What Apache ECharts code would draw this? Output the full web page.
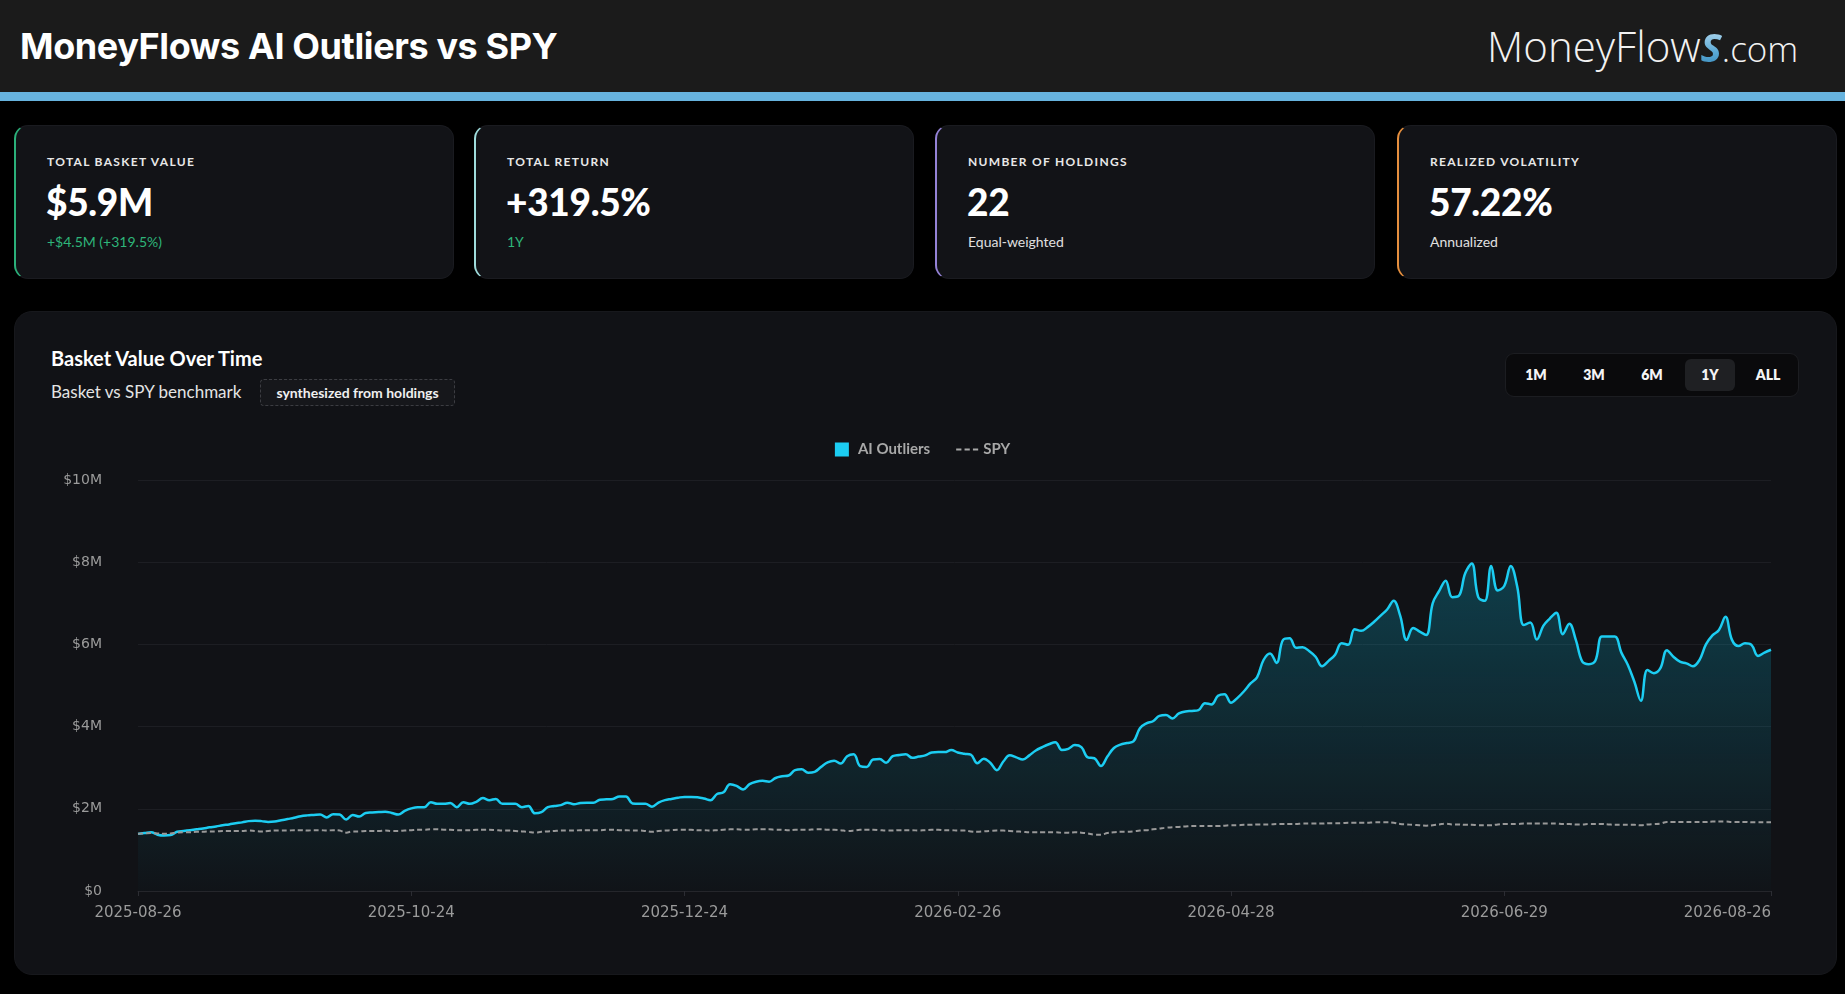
<!DOCTYPE html>
<html>
<head>
<meta charset="utf-8">
<script src="https://cdn.jsdelivr.net/npm/echarts@6/dist/echarts.min.js"></script>
<style>
  html, body { margin: 0; padding: 0; background: #000; width: 1845px; height: 994px; overflow: hidden; font-family: Lato, "Noto Sans", sans-serif; color: #fff; }
  .header { position: absolute; left: 0; top: 0; width: 1845px; height: 92px; background: #1b1b1b; }
  .stripe { position: absolute; left: 0; top: 92px; width: 1845px; height: 9px; background: #67b3de; }
  .title { position: absolute; left: 20px; top: 24px; font-family: Inter, Lato, sans-serif; font-weight: 700; font-size: 36px; letter-spacing: -0.4px; }
  .logo { position: absolute; left: 1487px; top: 17px; font-family: "Open Sans", sans-serif; font-weight: 300; font-size: 42px; color: #f2f2f2; white-space: nowrap; }
  .logo .s { font-weight: 700; font-style: italic; font-size: 40px; background: linear-gradient(180deg, #d9ecf7 0%, #5aa9d6 60%, #2d7fb0 100%); -webkit-background-clip: text; background-clip: text; color: transparent; }
  .logo .com { font-size: 35px; }
  .card { position: absolute; top: 125px; width: 440px; height: 154px; box-sizing: border-box; background: #121317; border: 1px solid #1a1b20; border-left: 2px solid var(--accent); border-radius: 14px; padding-left: 32px; }
  .lbl { position: absolute; left: 31px; top: 28px; font-size: 12px; font-weight: 700; letter-spacing: 1.3px; color: #e8e8e8; }
  .val { position: absolute; left: 30px; top: 53px; font-size: 37px; font-weight: 900; color: #fff; letter-spacing: -0.3px; }
  .sub { position: absolute; left: 31px; top: 107px; font-size: 14px; color: #e0e0e0; }
  .green { color: #2eb57a; }
  .panel { position: absolute; left: 14px; top: 311px; width: 1823px; height: 664px; box-sizing: border-box; background: #111216; border: 1px solid #17181c; border-radius: 18px; }
  .ptitle { position: absolute; left: 51px; top: 346px; font-size: 20px; font-weight: 700; color: #fff; }
  .psub { position: absolute; left: 51px; top: 381px; font-size: 17px; color: #e4e4e4; }
  .badge { position: absolute; left: 260px; top: 379px; width: 195px; height: 27px; box-sizing: border-box; border: 1px dashed #3c3d42; border-radius: 4px; font-size: 14px; font-weight: 700; color: #f0f0f0; text-align: center; line-height: 25px; background: #16171b; }
  .ranges { position: absolute; left: 1505px; top: 353px; width: 294px; height: 44px; box-sizing: border-box; background: #0a0a0c; border: 1px solid #1c1d21; border-radius: 9px; padding: 5px; display: flex; gap: 8px; }
  .ranges div { width: 51px; height: 32px; line-height: 32px; text-align: center; font-size: 14px; font-weight: 800; color: #f4f4f4; border-radius: 6px; }
  .ranges div.on { background: #1f2023; }
  #chart { position: absolute; left: 0; top: 0; width: 1845px; height: 994px; }
</style>
</head>
<body>
<div class="header"></div>
<div class="stripe"></div>
<div class="title">MoneyFlows AI Outliers vs SPY</div>
<div class="logo">MoneyFlow<span class="s">S</span><span class="com">.com</span></div>

<div class="card" style="left:14px; --accent:#2bb07a">
  <div class="lbl">TOTAL BASKET VALUE</div>
  <div class="val">$5.9M</div>
  <div class="sub green">+$4.5M (+319.5%)</div>
</div>
<div class="card" style="left:474px; --accent:#9fdcdc">
  <div class="lbl">TOTAL RETURN</div>
  <div class="val">+319.5%</div>
  <div class="sub green">1Y</div>
</div>
<div class="card" style="left:935px; --accent:#9482d6">
  <div class="lbl">NUMBER OF HOLDINGS</div>
  <div class="val">22</div>
  <div class="sub">Equal-weighted</div>
</div>
<div class="card" style="left:1397px; --accent:#e68f3e">
  <div class="lbl">REALIZED VOLATILITY</div>
  <div class="val">57.22%</div>
  <div class="sub">Annualized</div>
</div>

<div class="panel"></div>
<div class="ptitle">Basket Value Over Time</div>
<div class="psub">Basket vs SPY benchmark</div>
<div class="badge">synthesized from holdings</div>
<div class="ranges"><div>1M</div><div>3M</div><div>6M</div><div class="on">1Y</div><div>ALL</div></div>

<div id="chart"></div>

<script>
// tick labels shown on the x axis
const tickLabels = ['2025-08-26', '2025-10-24', '2025-12-24', '2026-02-26', '2026-04-28', '2026-06-29', '2026-08-26'];

// market holidays skipped between the trading days
const holidays = ['2025-09-01', '2025-11-27', '2025-12-25', '2026-01-01', '2026-01-19',
                  '2026-02-16', '2026-04-03', '2026-05-25', '2026-06-19', '2026-07-03'];

// basket value, $M
const aiOutliers = [
  1.39, 1.41, 1.43, 1.37, 1.35, 1.36, 1.44, 1.46, 1.48, 1.50,
  1.52, 1.55, 1.57, 1.60, 1.62, 1.65, 1.67, 1.70, 1.71, 1.70,
  1.68, 1.69, 1.72, 1.75, 1.78, 1.82, 1.84, 1.85, 1.86, 1.79,
  1.87, 1.86, 1.74, 1.85, 1.81, 1.90, 1.91, 1.92, 1.93, 1.90,
  1.86, 1.95, 2.01, 2.04, 2.04, 2.16, 2.12, 2.12, 2.14, 2.04,
  2.16, 2.12, 2.17, 2.26, 2.21, 2.24, 2.12, 2.12, 2.12, 2.04,
  2.07, 1.89, 1.92, 2.04, 2.07, 2.09, 2.15, 2.11, 2.14, 2.15,
  2.15, 2.22, 2.23, 2.24, 2.30, 2.30, 2.13, 2.12, 2.12, 2.05,
  2.15, 2.21, 2.24, 2.27, 2.29, 2.29, 2.28, 2.25, 2.21, 2.36,
  2.40, 2.60, 2.56, 2.47, 2.60, 2.66, 2.68, 2.66, 2.75, 2.79,
  2.81, 2.94, 2.96, 2.88, 2.90, 3.02, 3.13, 3.17, 3.10, 3.28,
  3.33, 3.04, 3.02, 3.20, 3.21, 3.12, 3.28, 3.31, 3.33, 3.24,
  3.27, 3.30, 3.37, 3.38, 3.38, 3.43, 3.37, 3.34, 3.32, 3.11,
  3.22, 3.12, 2.94, 3.15, 3.30, 3.25, 3.20, 3.30, 3.42, 3.50,
  3.57, 3.62, 3.43, 3.46, 3.55, 3.50, 3.25, 3.23, 3.04, 3.27,
  3.48, 3.56, 3.60, 3.64, 3.96, 4.08, 4.13, 4.26, 4.28, 4.20,
  4.32, 4.37, 4.38, 4.40, 4.57, 4.54, 4.75, 4.79, 4.58, 4.70,
  4.86, 5.05, 5.20, 5.62, 5.78, 5.55, 6.11, 6.15, 5.92, 5.93,
  5.84, 5.70, 5.47, 5.60, 5.75, 6.03, 5.99, 6.37, 6.33, 6.42,
  6.55, 6.70, 6.85, 7.06, 6.70, 6.11, 6.40, 6.31, 6.23, 7.00,
  7.30, 7.55, 7.15, 7.18, 7.73, 7.97, 7.15, 7.06, 7.91, 7.31,
  7.42, 7.91, 7.40, 6.47, 6.53, 6.12, 6.45, 6.63, 6.77, 6.25,
  6.50, 6.11, 5.58, 5.52, 5.60, 6.19, 6.19, 6.19, 5.80, 5.50,
  5.09, 4.63, 5.38, 5.30, 5.42, 5.86, 5.70, 5.58, 5.54, 5.47,
  5.62, 6.00, 6.22, 6.35, 6.67, 6.11, 5.96, 6.03, 5.99, 5.72,
  5.80, 5.87
];

// SPY benchmark scaled to the same start, $M
const spy = [
  1.39, 1.40, 1.41, 1.40, 1.39, 1.40, 1.42, 1.43, 1.43, 1.44,
  1.44, 1.45, 1.45, 1.46, 1.46, 1.46, 1.46, 1.47, 1.46, 1.45,
  1.46, 1.47, 1.47, 1.47, 1.48, 1.48, 1.47, 1.48, 1.48, 1.47,
  1.48, 1.47, 1.42, 1.45, 1.45, 1.46, 1.46, 1.46, 1.47, 1.46,
  1.46, 1.47, 1.48, 1.49, 1.49, 1.50, 1.50, 1.49, 1.49, 1.48,
  1.48, 1.48, 1.49, 1.49, 1.49, 1.48, 1.47, 1.47, 1.46, 1.45,
  1.44, 1.42, 1.44, 1.45, 1.46, 1.47, 1.47, 1.47, 1.48, 1.48,
  1.48, 1.48, 1.49, 1.49, 1.48, 1.48, 1.47, 1.47, 1.46, 1.44,
  1.46, 1.47, 1.48, 1.49, 1.49, 1.49, 1.48, 1.48, 1.47, 1.48,
  1.49, 1.50, 1.50, 1.49, 1.49, 1.50, 1.50, 1.50, 1.49, 1.49,
  1.48, 1.49, 1.49, 1.49, 1.50, 1.50, 1.49, 1.49, 1.48, 1.46,
  1.47, 1.49, 1.49, 1.49, 1.48, 1.47, 1.47, 1.48, 1.48, 1.48,
  1.47, 1.48, 1.49, 1.49, 1.48, 1.48, 1.47, 1.47, 1.45, 1.44,
  1.45, 1.46, 1.47, 1.47, 1.46, 1.45, 1.44, 1.43, 1.43, 1.43,
  1.43, 1.43, 1.42, 1.42, 1.43, 1.42, 1.40, 1.37, 1.37, 1.41,
  1.43, 1.44, 1.44, 1.45, 1.47, 1.48, 1.50, 1.52, 1.54, 1.55,
  1.56, 1.57, 1.58, 1.58, 1.58, 1.58, 1.58, 1.59, 1.60, 1.60,
  1.61, 1.61, 1.62, 1.62, 1.62, 1.63, 1.63, 1.63, 1.63, 1.64,
  1.64, 1.64, 1.64, 1.65, 1.65, 1.65, 1.66, 1.66, 1.66, 1.66,
  1.67, 1.67, 1.67, 1.66, 1.63, 1.62, 1.61, 1.60, 1.59, 1.60,
  1.62, 1.64, 1.62, 1.62, 1.61, 1.61, 1.60, 1.60, 1.60, 1.62,
  1.63, 1.63, 1.63, 1.64, 1.64, 1.64, 1.64, 1.64, 1.64, 1.63,
  1.63, 1.62, 1.62, 1.63, 1.63, 1.63, 1.62, 1.61, 1.61, 1.61,
  1.61, 1.60, 1.62, 1.63, 1.64, 1.68, 1.68, 1.68, 1.68, 1.68,
  1.68, 1.68, 1.69, 1.69, 1.69, 1.68, 1.68, 1.68, 1.67, 1.67,
  1.67, 1.67
];

// trading days from 2025-08-26 to 2026-08-26
const dates = [];
for (let t = Date.UTC(2025, 7, 26); t <= Date.UTC(2026, 7, 26); t += 86400000) {
  const d = new Date(t);
  const wd = d.getUTCDay();
  const s = d.toISOString().slice(0, 10);
  if (wd === 0 || wd === 6 || holidays.includes(s)) continue;
  dates.push(s);
}

function initChart() {
  const myChart = echarts.init(document.getElementById('chart'), null, { renderer: 'canvas' });
  const showTick = (idx, val) => tickLabels.includes(val);

  const option = {
    backgroundColor: 'transparent',
    animation: false,
    legend: {
      top: 437,
      left: 'center',
      itemWidth: 22,
      itemHeight: 14,
      itemGap: 26,
      textStyle: { color: '#a8a8a8', fontSize: 15, fontWeight: 700, fontFamily: 'Lato' },
      data: [
        { name: 'AI Outliers', icon: 'path://M0,0h10v10H0z', itemStyle: { color: '#1ccdf2' } },
        { name: 'SPY', icon: 'path://M0,0h5v2H0z M8,0h5v2H8z M16,0h5v2H16z', itemStyle: { color: '#a8a8a8' } }
      ]
    },
    grid: { left: 138, right: 74, top: 480, bottom: 103 },
    xAxis: {
      type: 'category',
      data: dates,
      boundaryGap: false,
      axisLine: { lineStyle: { color: '#25262b' } },
      axisTick: { show: true, interval: showTick, length: 5, lineStyle: { color: '#2c2d33' } },
      axisLabel: {
        interval: showTick,
        color: '#9b9b9b',
        fontSize: 15,
        fontFamily: 'DejaVu Sans',
        margin: 15,
        alignMaxLabel: 'right'
      },
      splitLine: { show: false }
    },
    yAxis: {
      type: 'value',
      min: 0,
      max: 10,
      interval: 2,
      axisLine: { show: false },
      axisTick: { show: false },
      axisLabel: {
        color: '#9b9b9b',
        fontSize: 14,
        fontFamily: 'DejaVu Sans',
        margin: 36,
        formatter: v => v === 0 ? '$0' : '$' + v + 'M'
      },
      splitLine: { lineStyle: { color: '#1d1e23', width: 1 } }
    },
    series: [
      {
        name: 'AI Outliers',
        type: 'line',
        data: aiOutliers,
        smooth: 0.4,
        showSymbol: false,
        lineStyle: { color: '#1ccdf2', width: 2.5 },
        itemStyle: { color: '#1ccdf2' },
        areaStyle: {
          color: new echarts.graphic.LinearGradient(0, 0, 0, 1, [
            { offset: 0, color: 'rgba(10, 185, 220, 0.38)' },
            { offset: 1, color: 'rgba(10, 185, 220, 0.02)' }
          ])
        },
        z: 3
      },
      {
        name: 'SPY',
        type: 'line',
        data: spy,
        smooth: 0.4,
        showSymbol: false,
        lineStyle: { color: '#999999', width: 2, type: [5, 3] },
        itemStyle: { color: '#999999' },
        z: 4
      }
    ]
  };

  myChart.setOption(option);
}

initChart();
</script>
</body>
</html>
